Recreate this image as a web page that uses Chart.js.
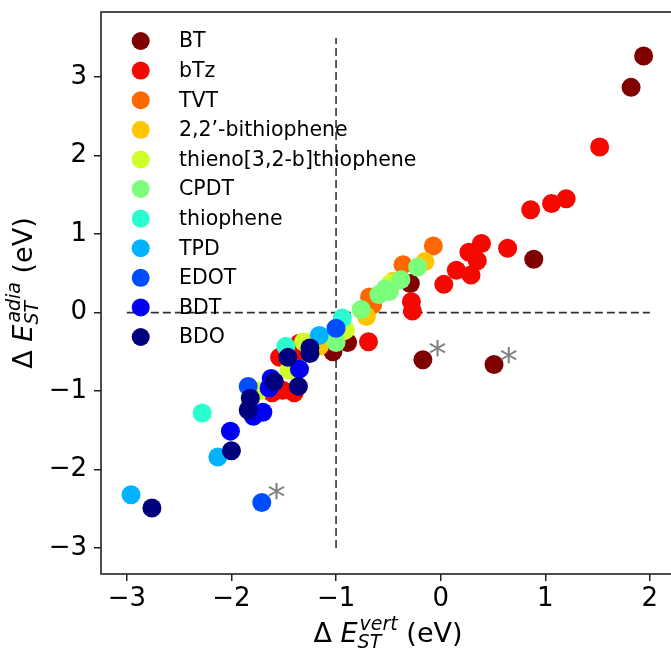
<!DOCTYPE html>
<html>
<head>
<meta charset="utf-8">
<script src="https://cdn.jsdelivr.net/npm/chart.js@4/dist/chart.umd.min.js"></script>
<style>
html,body{margin:0;padding:0;background:#fff;overflow:hidden}
#wrap{position:absolute;left:0;top:0;width:700px;height:651px}
</style>
</head>
<body>
<div id="wrap"><canvas id="c"></canvas></div>
<script>
// series names + colours (jet colormap, 11 steps)
var names=["BT","bTz","TVT","2,2\u2019-bithiophene","thieno[3,2-b]thiophene","CPDT","thiophene","TPD","EDOT","BDT","BDO"]
var colors=["#800000","#f40900","#ff6800","#ffc600","#ceff29","#7bff7b","#29ffce","#00b2ff","#004dff","#0000f4","#00007f"]

// [dE_vert, dE_adia] pairs
var BT=[[1.94,3.27],[1.82,2.87],[0.89,0.68],[-0.17,-0.60],[0.51,-0.66],[-0.29,0.37],[-1.03,-0.50],[-0.89,-0.38]]
var bTz=[[1.52,2.11],[0.86,1.31],[1.06,1.39],[1.20,1.45],[0.64,0.82],[0.39,0.88],[0.27,0.77],[0.35,0.66],[0.29,0.48],[0.15,0.54],[0.03,0.36],[-0.28,0.14],[-0.27,0.02],[-0.69,-0.37],[-1.54,-0.57],[-1.35,-0.39],[-1.40,-0.55],[-1.61,-1.02],[-1.51,-0.99],[-1.40,-1.02]]
var TVT=[[-0.07,0.85],[-0.36,0.61],[-0.68,0.20],[-0.65,0.10],[-0.48,0.35]]
var bithiophene=[[-0.15,0.65],[-0.71,-0.05],[-0.94,-0.24],[-1.16,-0.43],[-0.45,0.40]]
var thienothiophene=[[-0.48,0.37],[-1.45,-0.73],[-1.74,-1.00],[-1.31,-0.37],[-0.91,-0.22]]
var CPDT=[[-0.22,0.58],[-0.38,0.42],[-0.49,0.27],[-0.59,0.23],[-0.76,0.04],[-1.00,-0.38],[-0.53,0.30]]
var thiophene=[[-2.28,-1.28],[-1.48,-0.43],[-0.94,-0.07]]
var TPD=[[-2.96,-2.32],[-2.13,-1.84],[-1.16,-0.29]]
var EDOT=[[-1.71,-2.42],[-1.00,-0.20],[-1.84,-0.94]]
var BDT=[[-2.01,-1.51],[-1.70,-1.27],[-1.79,-1.32],[-1.64,-0.96],[-1.35,-0.72],[-1.62,-0.84]]
var BDO=[[-2.76,-2.49],[-2.00,-1.76],[-1.84,-1.24],[-1.82,-1.09],[-1.36,-0.94],[-1.59,-0.88],[-1.25,-0.45],[-1.46,-0.57],[-1.25,-0.52]]
var series=[BT,bTz,TVT,bithiophene,thienothiophene,CPDT,thiophene,TPD,EDOT,BDT,BDO]

// asterisk marks next to outliers
var starX=[-0.03,0.65,-1.57]
var starY=[-0.42,-0.51,-2.25]

// reference lines
var hLineX=[-3,2], hLineY=[0,0]
var vLineX=[-1,-1], vLineY=[-3,3.5]

var xTicks=[-3,-2,-1,0,1,2]
var yTicks=[-3,-2,-1,0,1,2,3]

var FONT='"DejaVu Sans"'

function minus(v){ return v<0 ? '\u2212'+Math.abs(v) : ''+v }

var datasets=[]
datasets.push({type:'line',data:hLineX.map((x,i)=>({x:x,y:hLineY[i]})),borderColor:'#333',borderWidth:1.6,borderDash:[8,4],pointRadius:0,order:50})
datasets.push({type:'line',data:vLineX.map((x,i)=>({x:x,y:vLineY[i]})),borderColor:'#333',borderWidth:1.6,borderDash:[8,4],pointRadius:0,order:50})
for(var i=0;i<series.length;i++){
    datasets.push({
        type:'scatter',
        label:names[i],
        data:series[i].map(p=>({x:p[0],y:p[1]})),
        backgroundColor:colors[i],
        borderColor:colors[i],
        borderWidth:0,
        pointRadius:9.5,
        pointHoverRadius:9.5,
        order:20-i   // later series on top
    })
}

function fnt(sz,it){ return (it?'italic ':'')+sz+'px '+FONT }

function mathLabel(ctx,sub,sup,cx,cy,rot){
    var big=27, small=19
    ctx.save()
    ctx.translate(cx,cy); ctx.rotate(rot)
    ctx.fillStyle='#000'; ctx.textBaseline='alphabetic'; ctx.textAlign='left'
    ctx.font=fnt(big,false); var w1=ctx.measureText('\u0394 ').width, w4=ctx.measureText(' (eV)').width
    ctx.font=fnt(big,true); var w2=ctx.measureText('E').width
    ctx.font=fnt(small,true); var w3=Math.max(ctx.measureText(sub).width, ctx.measureText(sup).width+2)
    var x=-(w1+w2+w3+w4)/2
    ctx.font=fnt(big,false); ctx.fillText('\u0394 ',x,0); x+=w1
    ctx.font=fnt(big,true); ctx.fillText('E',x,0); x+=w2
    ctx.font=fnt(small,true); ctx.fillText(sub,x,6); ctx.fillText(sup,x+2,-12); x+=w3
    ctx.font=fnt(big,false); ctx.fillText(' (eV)',x,0)
    ctx.restore()
}

const extras={
    id:'extras',
    afterDatasetsDraw(chart){
        const {ctx,chartArea:a,scales}=chart
        // frame
        ctx.save()
        ctx.strokeStyle='#222'; ctx.lineWidth=1.6
        ctx.strokeRect(a.left,a.top,a.right-a.left,a.bottom-a.top)
        // asterisks
        ctx.fillStyle='#808080'; ctx.font='36px '+FONT; ctx.textAlign='center'; ctx.textBaseline='alphabetic'
        for(var i=0;i<starX.length;i++){
            ctx.fillText('*',scales.x.getPixelForValue(starX[i]),scales.y.getPixelForValue(starY[i])+20)
        }
        // legend
        ctx.font='20.5px '+FONT; ctx.textAlign='left'; ctx.textBaseline='middle'
        for(var i=0;i<names.length;i++){
            var y=41+i*29.6
            ctx.fillStyle=colors[i]
            ctx.beginPath(); ctx.arc(140.7,y,9,0,Math.PI*2); ctx.fill()
            ctx.fillStyle='#000'
            ctx.fillText(names[i],179,y+1)
        }
        ctx.restore()
        // axis titles
        mathLabel(ctx,'ST','vert',(a.left+a.right)/2,642,0)
        mathLabel(ctx,'ST','adia',32,(a.top+a.bottom)/2,-Math.PI/2)
    }
}

var chart=new Chart(document.getElementById('c'),{
    data:{datasets:datasets},
    options:{
        responsive:true,
        maintainAspectRatio:false,
        animation:false,
        events:[],
        layout:{padding:{top:12,right:25,bottom:0,left:0}},
        plugins:{legend:{display:false},tooltip:{enabled:false}},
        scales:{
            x:{
                type:'linear',min:-3.247,max:2.24,
                afterFit:s=>{s.height=77; s.paddingLeft=0; s.paddingRight=0},
                afterBuildTicks:s=>{s.ticks=xTicks.map(v=>({value:v}))},
                border:{display:false},
                grid:{drawOnChartArea:false,drawTicks:true,tickLength:7,color:'#222',lineWidth:1.5},
                ticks:{color:'#000',font:{family:FONT,size:26},padding:3,maxRotation:0,callback:minus}
            },
            y:{
                type:'linear',min:-3.33,max:3.83,
                afterFit:s=>{s.width=101; s.paddingTop=0; s.paddingBottom=0},
                afterBuildTicks:s=>{s.ticks=yTicks.map(v=>({value:v}))},
                border:{display:false},
                grid:{drawOnChartArea:false,drawTicks:true,tickLength:7,color:'#222',lineWidth:1.5},
                ticks:{color:'#000',font:{family:FONT,size:26},padding:7,callback:minus}
            }
        }
    },
    plugins:[extras]
})
</script>
</body>
</html>
